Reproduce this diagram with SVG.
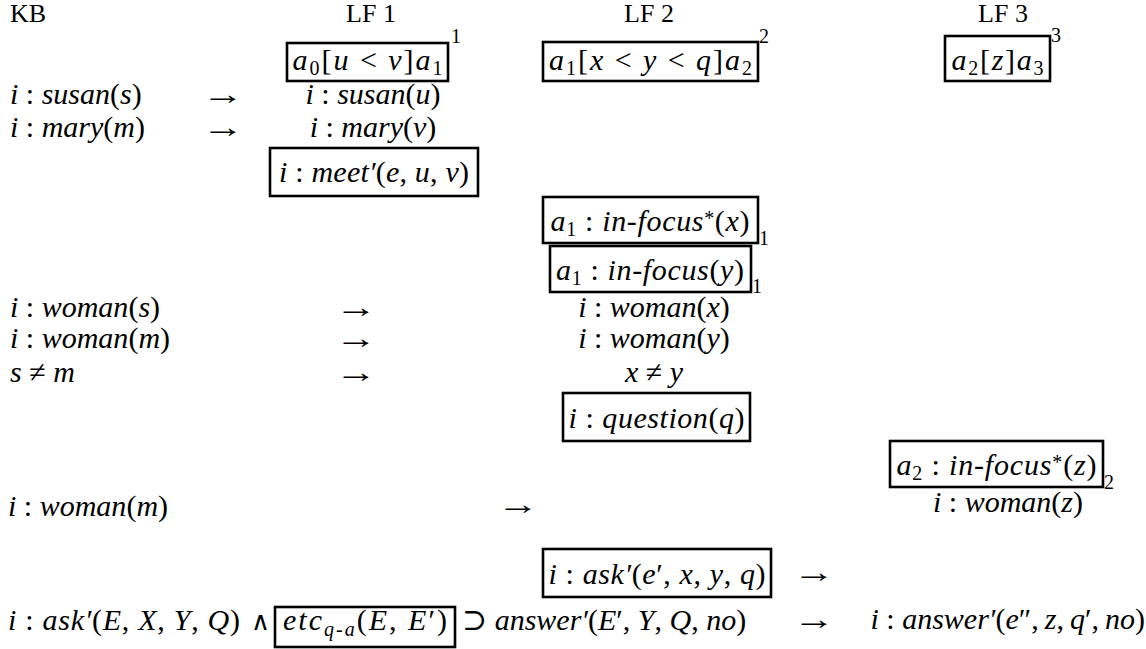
<svg xmlns="http://www.w3.org/2000/svg" width="1146" height="649" viewBox="0 0 1146 649">
<style>
text { font-family: "Liberation Serif", "DejaVu Serif", serif; font-size: 30px; fill: #000; }
.h { font-size: 26px; }
.i { font-style: italic; }
.s { font-size: 20px; }
.box { fill: none; stroke: #000; stroke-width: 2.6; }
.ar { font-family: "Liberation Serif", serif; font-size: 30px; }
.op { font-family: "DejaVu Sans", sans-serif; font-size: 26px; }
</style>
<rect width="1146" height="649" fill="#fff"/>

<g id="headers">
<text class="h" x="10" y="22">KB</text>
<text class="h" x="371" y="22" text-anchor="middle">LF 1</text>
<text class="h" x="649" y="22" text-anchor="middle">LF 2</text>
<text class="h" x="1003" y="22" text-anchor="middle">LF 3</text>
</g>

<g id="lf1-segment">
<rect class="box" x="287" y="43" width="161" height="38"/>
<text x="367.5" y="70" text-anchor="middle" textLength="150" lengthAdjust="spacing"><tspan class="i">a</tspan><tspan class="s" dy="5">0</tspan><tspan dy="-5">[</tspan><tspan class="i">u</tspan> &lt; <tspan class="i">v</tspan>]<tspan class="i">a</tspan><tspan class="s" dy="5">1</tspan></text>
<text class="s" x="451" y="43">1</text>
</g>

<g id="lf2-segment">
<rect class="box" x="543" y="42" width="215" height="39"/>
<text x="650.5" y="70" text-anchor="middle" textLength="203" lengthAdjust="spacing"><tspan class="i">a</tspan><tspan class="s" dy="5">1</tspan><tspan dy="-5">[</tspan><tspan class="i">x</tspan> &lt; <tspan class="i">y</tspan> &lt; <tspan class="i">q</tspan>]<tspan class="i">a</tspan><tspan class="s" dy="5">2</tspan></text>
<text class="s" x="759" y="43">2</text>
</g>

<g id="lf3-segment">
<rect class="box" x="945" y="36" width="105" height="45"/>
<text x="997.5" y="70" text-anchor="middle" textLength="92" lengthAdjust="spacing"><tspan class="i">a</tspan><tspan class="s" dy="5">2</tspan><tspan dy="-5">[</tspan><tspan class="i">z</tspan>]<tspan class="i">a</tspan><tspan class="s" dy="5">3</tspan></text>
<text class="s" x="1051" y="42">3</text>
</g>

<g id="kb-susan">
<text x="10" y="104"><tspan class="i">i</tspan> : <tspan class="i">susan</tspan>(<tspan class="i">s</tspan>)</text>
</g>
<g id="lf1-susan">
<text x="373" y="104" text-anchor="middle"><tspan class="i">i</tspan> : <tspan class="i">susan</tspan>(<tspan class="i">u</tspan>)</text>
</g>
<g id="kb-mary">
<text x="10" y="137"><tspan class="i">i</tspan> : <tspan class="i">mary</tspan>(<tspan class="i">m</tspan>)</text>
</g>
<g id="lf1-mary">
<text x="373" y="137" text-anchor="middle"><tspan class="i">i</tspan> : <tspan class="i">mary</tspan>(<tspan class="i">v</tspan>)</text>
</g>
<g id="lf1-meet">
<rect class="box" x="270" y="148" width="208" height="48"/>
<text x="374" y="182" text-anchor="middle" textLength="190" lengthAdjust="spacing"><tspan class="i">i</tspan> : <tspan class="i">meet′</tspan>(<tspan class="i">e</tspan>, <tspan class="i">u</tspan>, <tspan class="i">v</tspan>)</text>
</g>

<g id="lf2-infocus-x">
<rect class="box" x="543" y="197" width="215" height="46"/>
<text x="650" y="231" text-anchor="middle" textLength="199" lengthAdjust="spacing"><tspan class="i">a</tspan><tspan class="s" dy="5">1</tspan><tspan dy="-5"> : </tspan><tspan class="i">in-focus</tspan><tspan class="s" dy="-6">*</tspan><tspan dy="6">(</tspan><tspan class="i">x</tspan>)</text>
<text class="s" x="759" y="245">1</text>
</g>
<g id="lf2-infocus-y">
<rect class="box" x="550" y="246" width="201" height="46"/>
<text x="650" y="280" text-anchor="middle" textLength="188" lengthAdjust="spacing"><tspan class="i">a</tspan><tspan class="s" dy="5">1</tspan><tspan dy="-5"> : </tspan><tspan class="i">in-focus</tspan>(<tspan class="i">y</tspan>)</text>
<text class="s" x="752" y="293">1</text>
</g>
<g id="lf2-woman-x">
<text x="654" y="317" text-anchor="middle"><tspan class="i">i</tspan> : <tspan class="i">woman</tspan>(<tspan class="i">x</tspan>)</text>
</g>
<g id="lf2-woman-y">
<text x="654" y="348" text-anchor="middle"><tspan class="i">i</tspan> : <tspan class="i">woman</tspan>(<tspan class="i">y</tspan>)</text>
</g>
<g id="lf2-neq">
<text x="654" y="382" text-anchor="middle"><tspan class="i">x</tspan> ≠ <tspan class="i">y</tspan></text>
</g>
<g id="lf2-question">
<rect class="box" x="563" y="393" width="187" height="48"/>
<text x="656.5" y="428" text-anchor="middle" textLength="176" lengthAdjust="spacing"><tspan class="i">i</tspan> : <tspan class="i">question</tspan>(<tspan class="i">q</tspan>)</text>
</g>

<g id="kb-woman-s">
<text x="10" y="317"><tspan class="i">i</tspan> : <tspan class="i">woman</tspan>(<tspan class="i">s</tspan>)</text>
</g>
<g id="kb-woman-m">
<text x="10" y="348"><tspan class="i">i</tspan> : <tspan class="i">woman</tspan>(<tspan class="i">m</tspan>)</text>
</g>
<g id="kb-neq">
<text x="10" y="382"><tspan class="i">s</tspan> ≠ <tspan class="i">m</tspan></text>
</g>

<g id="lf3-infocus-z">
<rect class="box" x="890" y="441" width="213" height="46"/>
<text x="996.5" y="475" text-anchor="middle" textLength="200" lengthAdjust="spacing"><tspan class="i">a</tspan><tspan class="s" dy="5">2</tspan><tspan dy="-5"> : </tspan><tspan class="i">in-focus</tspan><tspan class="s" dy="-6">*</tspan><tspan dy="6">(</tspan><tspan class="i">z</tspan>)</text>
<text class="s" x="1104" y="489">2</text>
</g>
<g id="lf3-woman-z">
<text x="1008" y="512" text-anchor="middle"><tspan class="i">i</tspan> : <tspan class="i">woman</tspan>(<tspan class="i">z</tspan>)</text>
</g>
<g id="kb-woman-m2">
<text x="8" y="516"><tspan class="i">i</tspan> : <tspan class="i">woman</tspan>(<tspan class="i">m</tspan>)</text>
</g>

<g id="lf2-ask">
<rect class="box" x="543" y="549" width="228" height="48"/>
<text x="657" y="584" text-anchor="middle" textLength="217" lengthAdjust="spacing"><tspan class="i">i</tspan> : <tspan class="i">ask′</tspan>(<tspan class="i">e</tspan>′, <tspan class="i">x</tspan>, <tspan class="i">y</tspan>, <tspan class="i">q</tspan>)</text>
</g>

<g id="kb-rule">
<text x="8" y="630" textLength="232" lengthAdjust="spacing"><tspan class="i">i</tspan> : <tspan class="i">ask′</tspan>(<tspan class="i">E</tspan>, <tspan class="i">X</tspan>, <tspan class="i">Y</tspan>, <tspan class="i">Q</tspan>)</text>
<text class="op" x="251" y="630">∧</text>
<rect class="box" x="275" y="607" width="180" height="40"/>
<text x="283" y="630" textLength="164" lengthAdjust="spacing"><tspan class="i">etc</tspan><tspan class="s i" dy="6">q-a</tspan><tspan dy="-6">(</tspan><tspan class="i">E</tspan>, <tspan class="i">E</tspan>′)</text>
<text x="462" y="630">⊃ <tspan class="i">answer′</tspan>(<tspan class="i">E</tspan>′, <tspan class="i">Y</tspan>, <tspan class="i">Q</tspan>, <tspan class="i">no</tspan>)</text>
</g>
<g id="lf3-answer">
<text x="1145" y="629" text-anchor="end"><tspan class="i">i</tspan> : <tspan class="i">answer′</tspan>(<tspan class="i">e</tspan>″,&#8201;<tspan class="i">z</tspan>,&#8201;<tspan class="i">q</tspan>′,&#8201;<tspan class="i">no</tspan>)</text>
</g>

<g id="connectors">
<text class="ar" x="202" y="104" textLength="42" lengthAdjust="spacingAndGlyphs">→</text>
<text class="ar" x="202" y="137" textLength="42" lengthAdjust="spacingAndGlyphs">→</text>
<text class="ar" x="335" y="317" textLength="42" lengthAdjust="spacingAndGlyphs">→</text>
<text class="ar" x="335" y="348" textLength="42" lengthAdjust="spacingAndGlyphs">→</text>
<text class="ar" x="335" y="382" textLength="42" lengthAdjust="spacingAndGlyphs">→</text>
<text class="ar" x="497" y="514" textLength="42" lengthAdjust="spacingAndGlyphs">→</text>
<text class="ar" x="793" y="582" textLength="42" lengthAdjust="spacingAndGlyphs">→</text>
<text class="ar" x="793" y="629" textLength="42" lengthAdjust="spacingAndGlyphs">→</text>
</g>
</svg>
